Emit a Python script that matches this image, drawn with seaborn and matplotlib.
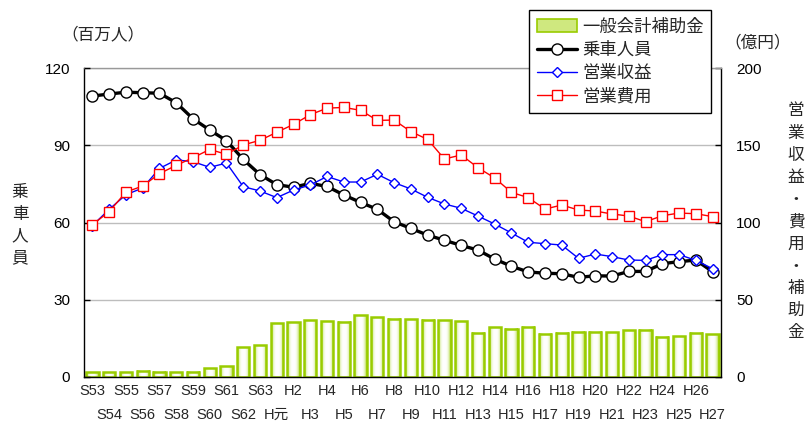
import numpy as np
import pandas as pd
import matplotlib
matplotlib.use("Agg")
import matplotlib.pyplot as plt
import matplotlib.colors as mcolors
from matplotlib.patches import Patch
from matplotlib.lines import Line2D
import seaborn as sns

# ---------------- data ----------------
years = ["S53", "S54", "S55", "S56", "S57", "S58", "S59", "S60", "S61", "S62", "S63",
         "H元", "H2", "H3", "H4", "H5", "H6", "H7", "H8", "H9", "H10", "H11", "H12",
         "H13", "H14", "H15", "H16", "H17", "H18", "H19", "H20", "H21", "H22", "H23",
         "H24", "H25", "H26", "H27"]

# 一般会計補助金 (億円)
subsidy = [3, 3, 3, 4, 3.5, 3, 3.5, 5.8, 7.1, 19.2, 20.7,
           34.7, 35.3, 36.7, 36.2, 35.8, 40.1, 38.8, 37.7, 37.3, 37.0, 36.7, 36.2,
           28.7, 32.2, 31.3, 32.6, 28.0, 28.5, 29.3, 29.3, 28.9, 30.4, 30.6,
           25.9, 26.5, 28.7, 27.8]

# 乗車人員 (百万人)
riders = [109.1, 109.9, 110.6, 110.4, 110.2, 106.5, 100.3, 95.9, 91.8, 84.5, 78.6,
          74.7, 73.7, 75.2, 74.0, 70.7, 67.8, 65.1, 60.3, 57.7, 55.1, 53.1, 51.1,
          49.3, 45.8, 43.0, 40.8, 40.3, 40.1, 38.7, 39.3, 39.2, 41.0, 41.0,
          44.0, 44.8, 45.4, 40.9]

# 営業収益 (億円)
revenue = [98, 108.5, 118, 122.3, 135, 140.5, 139.4, 135.7, 138.5, 123.2, 120.4,
           116.1, 121, 124.3, 129.8, 126.2, 126.2, 131.2, 125.8, 121.7, 116.3, 112, 109.2,
           104.2, 99, 93.2, 87.2, 86.3, 85.4, 76.8, 79.6, 77.9, 75.7, 75.5,
           79.2, 79.2, 75.5, 70.1]

# 営業費用 (億円)
expense = [98.6, 107, 119.7, 123.6, 131.6, 137, 141.9, 147.3, 144.1, 150.2, 153.2,
           158.4, 163.5, 169.8, 174.0, 174.5, 172.6, 166.1, 166.3, 158.8, 153.8, 141.1, 143.7,
           135.5, 128.8, 119.5, 116.1, 108.7, 111.3, 108.1, 107.4, 105.5, 104.2, 100.5,
           104.4, 106.1, 105.7, 103.8]

left_ticks = [0, 30, 60, 90, 120]
right_ticks = [0, 50, 100, 150, 200]

df = pd.DataFrame({"year": years, "subsidy": subsidy, "riders": riders,
                   "revenue": revenue, "expense": expense})

# ---------------- style ----------------
sns.set_theme(style="white")
plt.rcParams["font.family"] = ["Liberation Sans", "Noto Sans CJK JP"]
JP = ["Noto Sans CJK JP", "Liberation Sans"]
NARROW = ["Liberation Sans Narrow", "Liberation Sans", "Noto Sans CJK JP"]

GREEN = "#99cc00"

fig = plt.figure(figsize=(8.07, 4.26), dpi=100)
W, H = 807, 426
ax_bar = fig.add_axes([84 / W, 1 - 377 / H, (721 - 84) / W, (377 - 68) / H])
ax_left = ax_bar.twinx()
ax_top = ax_bar.twinx()

# bars (right scale)
sns.barplot(data=df, x="year", y="subsidy", ax=ax_bar, color=GREEN, width=0.73,
            saturation=1, edgecolor=GREEN, linewidth=1.8, errorbar=None)
ax_bar.set_ylim(0, 200)
green_rgb = np.array(mcolors.to_rgb(GREEN))
xs = np.linspace(-1, 1, 64)
t = np.abs(xs) ** 3.0
grad = (1 - t)[:, None] * np.ones(3) + t[:, None] * green_rgb
img = grad[None, :, :]
for bar in list(ax_bar.patches):
    x0, y0 = bar.get_x(), bar.get_y()
    w, h = bar.get_width(), bar.get_height()
    bar.set_facecolor("none")
    bar.set_zorder(1.2)
    ax_bar.imshow(img, extent=[x0, x0 + w, y0, y0 + h], aspect="auto",
                  zorder=1.1, interpolation="bilinear")

# riders (left scale)
sns.pointplot(data=df, x="year", y="riders", ax=ax_left, color="black",
              markers="o", linestyles="-", errorbar=None,
              linewidth=2.4, markersize=8, markerfacecolor="white",
              markeredgecolor="black", markeredgewidth=1.0)

# revenue & expense (right scale)
sns.pointplot(data=df, x="year", y="revenue", ax=ax_top, color="#0000ff",
              markers="D", linestyles="-", errorbar=None,
              linewidth=1.0, markersize=5.5, markerfacecolor="white",
              markeredgecolor="#0000ff", markeredgewidth=1.0)
sns.pointplot(data=df, x="year", y="expense", ax=ax_top, color="#ff0000",
              markers="s", linestyles="-", errorbar=None,
              linewidth=1.0, markersize=7.5, markerfacecolor="white",
              markeredgecolor="#ff0000", markeredgewidth=1.0)

n = len(years)
for a in (ax_bar, ax_left, ax_top):
    a.set_xlim(-0.5, n - 0.5)
    a.set_xlabel("")
    a.set_ylabel("")
    for s in a.spines.values():
        s.set_visible(False)

ax_bar.set_ylim(0, 200)
ax_top.set_ylim(0, 200)
ax_left.set_ylim(0, 120)

# grid on bottom axes
ax_bar.set_axisbelow(True)
ax_bar.yaxis.grid(True, color="#bdbdbd", linewidth=1.0)
ax_bar.xaxis.grid(False)

# spines
for side in ("left", "right", "bottom"):
    ax_bar.spines[side].set_visible(True)
    ax_bar.spines[side].set_color("black")
    ax_bar.spines[side].set_linewidth(1.0)
ax_bar.spines["top"].set_visible(True)
ax_bar.spines["top"].set_color("#999999")
ax_bar.spines["top"].set_linewidth(1.0)

# right y-axis ticks
ax_bar.yaxis.tick_right()
ax_bar.set_yticks(right_ticks)
ax_bar.set_yticklabels([str(v) for v in right_ticks])
ax_bar.tick_params(axis="y", which="major", direction="in", length=4, width=1,
                   color="black", pad=11, labelsize=11, labelcolor="black",
                   right=True, left=False, labelright=True, labelleft=False)

# left y-axis ticks
ax_left.yaxis.tick_left()
ax_left.set_yticks(left_ticks)
ax_left.set_yticklabels([str(v) for v in left_ticks])
ax_left.tick_params(axis="y", direction="in", length=4, width=1, color="black",
                    pad=10, labelsize=11, labelcolor="black",
                    left=True, right=False, labelleft=True, labelright=False)
ax_top.set_yticks([])
ax_top.tick_params(axis="y", left=False, right=False, labelleft=False, labelright=False)

# x tick labels in two rows
even = list(range(0, n, 2))
odd = list(range(1, n, 2))
ax_bar.set_xticks(even)
ax_bar.set_xticklabels([years[i] for i in even])
ax_bar.set_xticks(odd, minor=True)
ax_bar.set_xticklabels([years[i] for i in odd], minor=True)
ax_bar.tick_params(axis="x", which="major", length=0, pad=5, labelsize=10.5)
ax_bar.tick_params(axis="x", which="minor", length=0, pad=22, labelsize=10.5)
for lab in ax_bar.get_xticklabels(which="both"):
    lab.set_family(NARROW)

# axis titles (stacked vertical text)
fig.text(20 / W, 1 - 225 / H, "\n".join("乗車人員"), ha="center", va="center",
         fontsize=12, family=JP, linespacing=1.38)
fig.text(796 / W, 1 - 222 / H, "\n".join("営業収益・費用・補助金"), ha="center",
         va="center", fontsize=12, family=JP, linespacing=1.4)
fig.text(103 / W, 1 - 35 / H, "（百万人）", ha="center", va="center",
         fontsize=12, family=JP)
fig.text(758 / W, 1 - 43 / H, "（億円）", ha="center", va="center",
         fontsize=12, family=JP)

# legend
handles = [
    Patch(facecolor="#cfe87f", edgecolor=GREEN, linewidth=1.2),
    Line2D([], [], color="black", linewidth=2.4, marker="o", markersize=8,
           markerfacecolor="white", markeredgecolor="black"),
    Line2D([], [], color="#0000ff", linewidth=1.0, marker="D", markersize=5.5,
           markerfacecolor="white", markeredgecolor="#0000ff"),
    Line2D([], [], color="#ff0000", linewidth=1.0, marker="s", markersize=7.5,
           markerfacecolor="white", markeredgecolor="#ff0000"),
]
labels = ["一般会計補助金", "乗車人員", "営業収益", "営業費用"]
leg = fig.legend(handles, labels, loc="upper left",
                 bbox_to_anchor=(529 / W, 1 - 10 / H), borderaxespad=0,
                 frameon=True, fancybox=False, framealpha=1, edgecolor="black",
                 prop={"family": JP, "size": 12.5}, handlelength=2.3,
                 handleheight=0.8, labelspacing=0.3, borderpad=0.45,
                 handletextpad=0.3)
leg.get_frame().set_linewidth(1.0)

fig.savefig("out.png", dpi=100)
